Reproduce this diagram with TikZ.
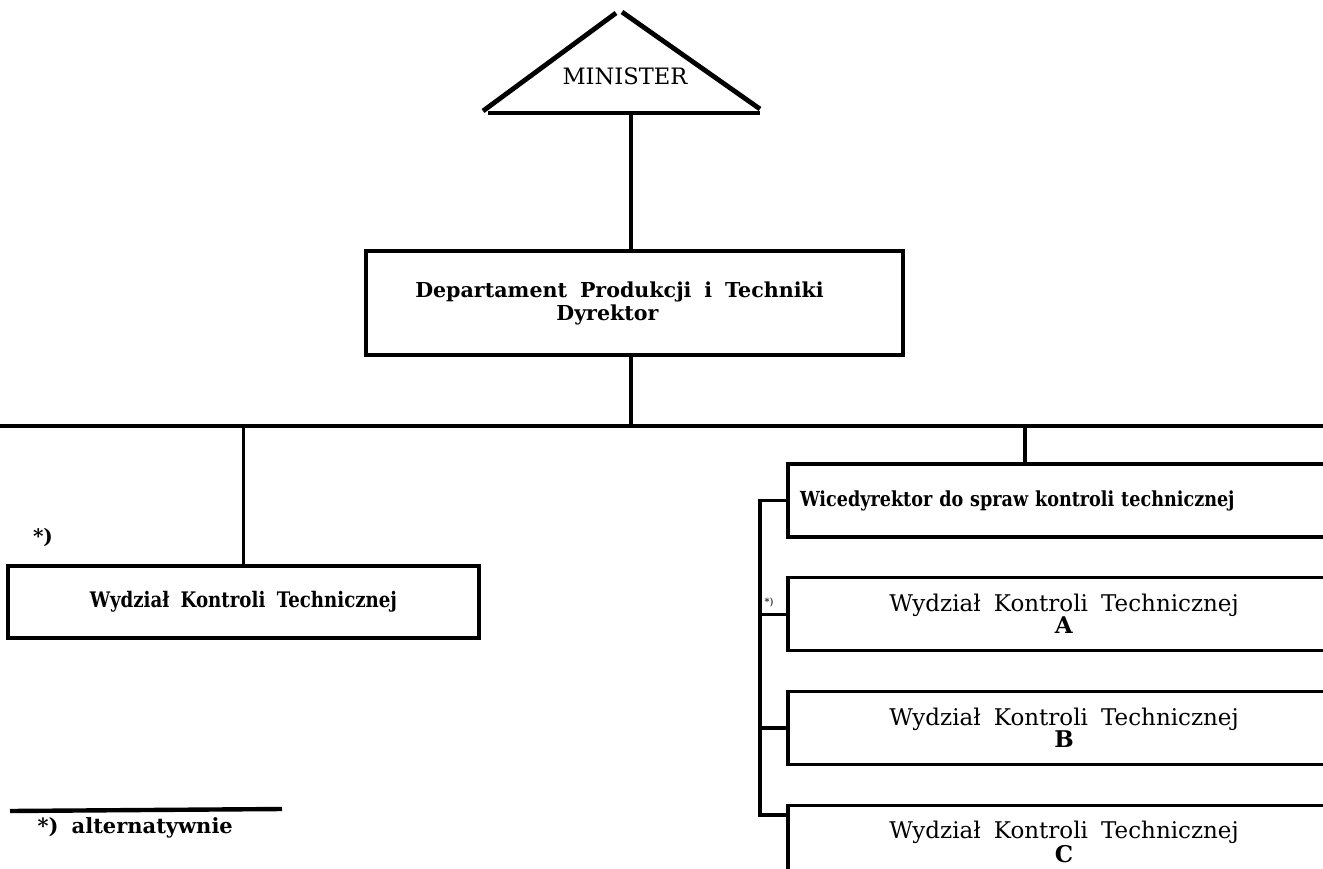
\documentclass[tikz,border=0pt]{standalone}
\usepackage{fontspec}
\setmainfont[WordSpace=1.8]{DejaVu Serif}
\newfontfamily\narrowslab[FakeStretch=0.85,WordSpace=1.8]{DejaVu Serif}
\usetikzlibrary{positioning}
\tikzset{
  every picture/.style = {
    line width = 1.6pt,
    x = 0.5pt,
    y = -0.5pt,
    node distance = 18.75pt and 3em,
  }
  ,
  unit/.style = {
    rectangle,
    draw,
    inner sep = 0pt,
    font = \bfseries,
    align = center
  }
  , % boxes of the right column
  unit-r/.style = {
    unit,
    font = \fontsize{11.5}{11}\selectfont,
    minimum width = 276pt,
    minimum height = 36.5pt
  }
  , % heavy lines
  bus/.style = {
    line width = 2.2pt
  }
  , % footnote marks
  mark-note/.style = {
    font = \bfseries,
    inner sep = 0pt
  }
}

\begin{document}
\begin{tikzpicture}
      \useasboundingbox (0,0) rectangle (1323,868);
      \clip (0,0) rectangle (1323,868);

      \node [font=\fontsize{11.3}{13}\selectfont] (minister) at (625,76) {MINISTER};
      \coordinate (roof-l) at (483,111);
      \coordinate (roof-r) at (760,109);
      \coordinate (top-l) at (616,13);
      \coordinate (top-r) at (622,12);
      \coordinate (base-l) at (488,113);
      \coordinate (base-r) at (760,113);
      \coordinate (stem) at (631,113);
      \draw[line width=2.4pt] (roof-l) -- (top-l) (top-r) -- (roof-r);
      \draw[line width=2pt] (base-l) -- (base-r);

      \node [unit, font=\bfseries\fontsize{10.3}{11.5}\selectfont,
             minimum width=268.5pt, minimum height=52pt] (dept) at (634.5,303)
            {Departament Produkcji i Techniki\hspace*{15pt}\\Dyrektor\hspace*{27pt}};

      \coordinate (bus-w) at (0,426);
      \coordinate (bus-e) at (1323,426);
      \coordinate (tap) at (1025,426);
      \draw[bus] (bus-w) -- (bus-e);
      \draw (stem) -- (stem |- dept.north)
            (stem |- dept.south) -- (stem |- bus-w);

      % left branch
      \node [unit, font=\narrowslab\bfseries\fontsize{10.7}{12}\selectfont,
             minimum width=235.5pt, minimum height=36pt] (wkt) at (243.5,602)
            {Wydział Kontroli Technicznej};
      \node [mark-note] (alt-l) at (43,537) {*)};
      \draw (wkt.north) -- (wkt.north |- bus-w);

      % right branch
      \node [unit-r, font=\narrowslab\bfseries\fontsize{10.35}{12}\selectfont,
             align=left, text width=264pt, inner xsep=6pt] (wice) at (1064,500.5)
            {Wicedyrektor do spraw kontroli technicznej};
      \node [unit-r, below = of wice] (wkt-a) {Wydział Kontroli Technicznej\\\textbf{A}};
      \node [unit-r, below = of wkt-a] (wkt-b) {Wydział Kontroli Technicznej\\\textbf{B}};
      \node [unit-r, below = of wkt-b] (wkt-c) {Wydział Kontroli Technicznej\\\textbf{C}};
      \draw (tap) -- (tap |- wice.north);

      \coordinate (brace) at (760,815);
      \node [mark-note, font=\tiny] (alt-r) at (769,602) {*)};
      \draw (wice.west) -- (wice.west -| brace) -- (brace) -- (brace -| wkt-c.west);
      \draw (wkt-a.west) -- (wkt-a.west -| brace)
            (wkt-b.west) -- (wkt-b.west -| brace);

      % footnote
      \coordinate (rule-l) at (10,811);
      \coordinate (rule-r) at (282,809);
      \draw[bus] (rule-l) -- (rule-r);
      \node [mark-note, font=\bfseries\fontsize{10.5}{12}\selectfont, anchor=west] (note) at (36,828)
            {*) alternatywnie};

\end{tikzpicture}
\end{document}
